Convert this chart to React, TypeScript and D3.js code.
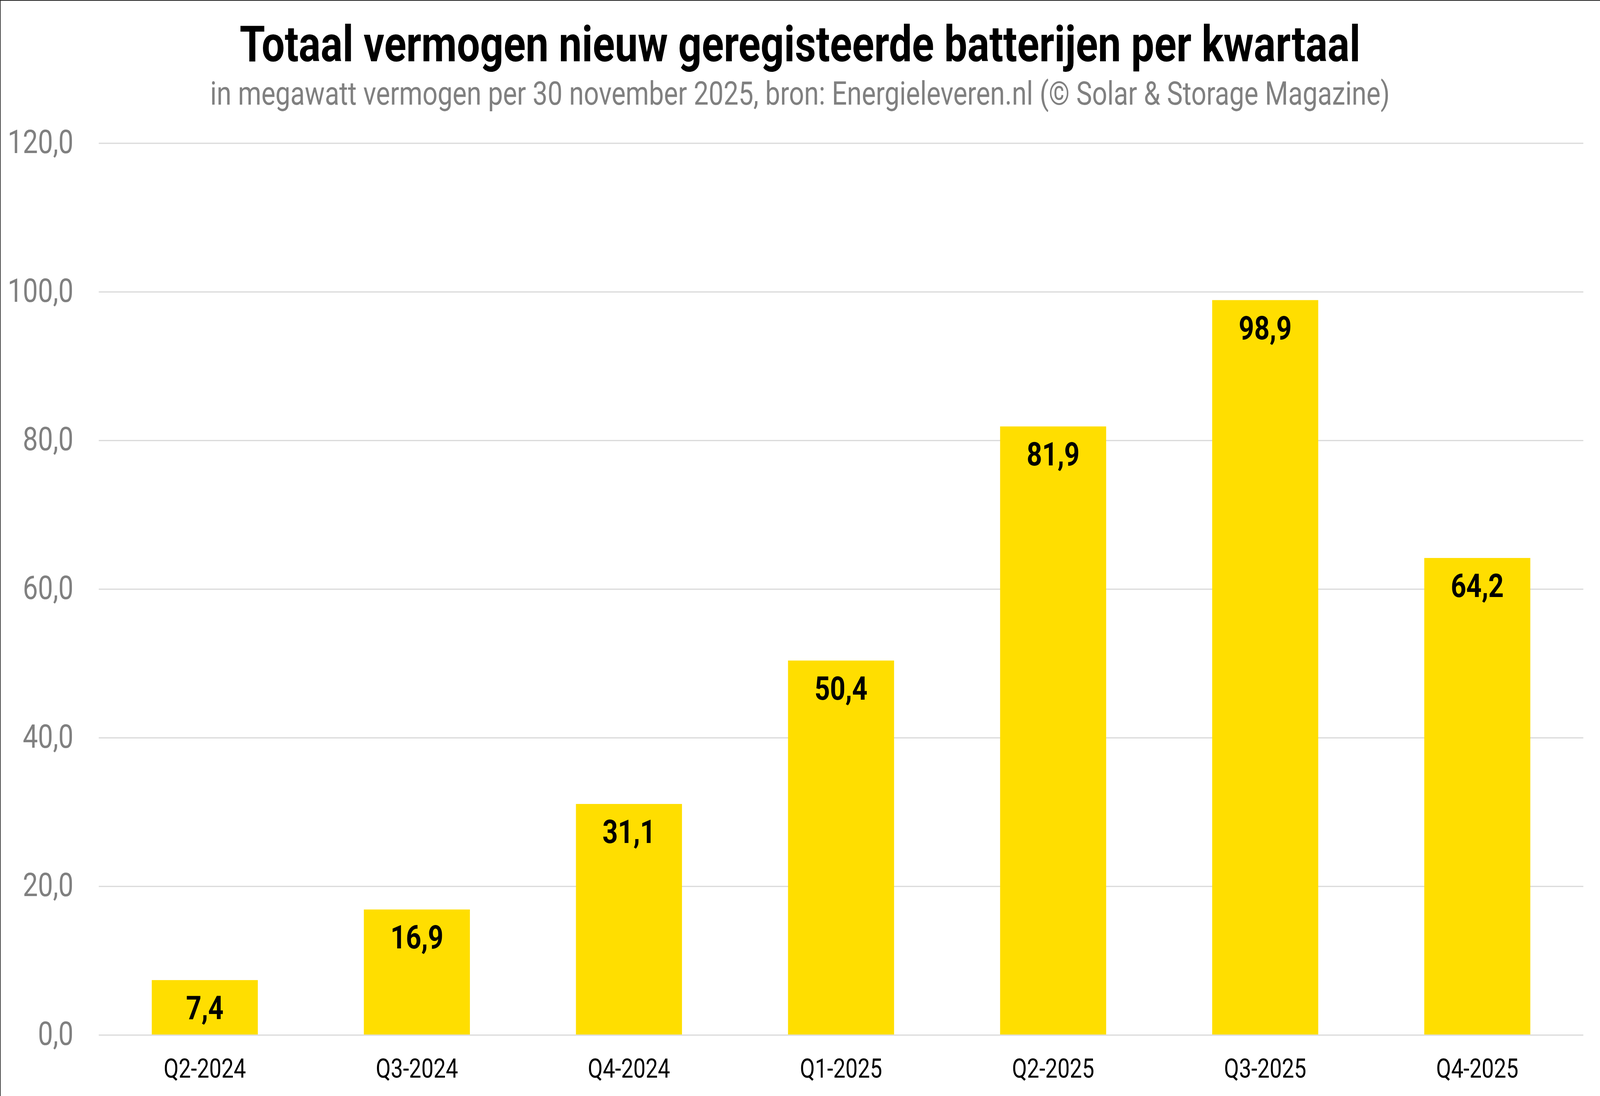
import React, { useEffect, useRef } from 'react';
import * as d3 from 'd3';

const quarters = ['Q2-2024', 'Q3-2024', 'Q4-2024', 'Q1-2025', 'Q2-2025', 'Q3-2025', 'Q4-2025'];
const megawatts = [7.4, 16.9, 31.1, 50.4, 81.9, 98.9, 64.2];
const yTicks = [0, 20, 40, 60, 80, 100, 120];

const WIDTH = 4990;
const HEIGHT = 2807;

const fmt = (v: number) => v.toFixed(1).replace('.', ',');

function BatteryChart() {
  const ref = useRef<SVGSVGElement>(null);

  useEffect(() => {
    if (!ref.current) return;
    document.body.style.margin = '0';
    const svg = d3.select(ref.current);
    svg.selectAll('*').remove();

    const left = 308;
    const right = 4938;
    const top = 367;
    const bottom = 2651;

    const x = d3.scaleBand<string>()
      .domain(quarters)
      .range([left, right])
      .paddingInner(0.5)
      .paddingOuter(0.25);
    const y = d3.scaleLinear().domain([0, 120]).range([bottom, top]);

    svg.append('rect')
      .attr('width', WIDTH).attr('height', HEIGHT)
      .attr('fill', '#ffffff');

    // frame edges (top + left only)
    svg.append('line')
      .attr('x1', 0).attr('x2', WIDTH).attr('y1', 1).attr('y2', 1)
      .attr('stroke', '#222').attr('stroke-width', 2);
    svg.append('line')
      .attr('x1', 1).attr('x2', 1).attr('y1', 0).attr('y2', HEIGHT)
      .attr('stroke', '#222').attr('stroke-width', 2);

    // Titles
    svg.append('text')
      .attr('x', WIDTH / 2).attr('y', 157)
      .attr('text-anchor', 'middle')
      .attr('font-family', 'Roboto')
      .attr('font-weight', 700)
      .attr('font-size', '128px')
      .attr('fill', '#000')
      .text('Totaal vermogen nieuw geregisteerde batterijen per kwartaal');

    svg.append('text')
      .attr('x', WIDTH / 2).attr('y', 268)
      .attr('text-anchor', 'middle')
      .attr('font-family', 'Roboto')
      .attr('font-size', '83px')
      .attr('fill', '#808080')
      .text('in megawatt vermogen per 30 november 2025, bron: Energieleveren.nl (© Solar & Storage Magazine)');

    // Gridlines
    svg.append('g')
      .selectAll('line')
      .data(yTicks)
      .join('line')
      .attr('x1', left).attr('x2', right)
      .attr('y1', (d) => y(d)).attr('y2', (d) => y(d))
      .attr('stroke', '#d9d9d9')
      .attr('stroke-width', 3);

    // Y labels
    svg.append('g')
      .selectAll('text')
      .data(yTicks)
      .join('text')
      .attr('x', 229)
      .attr('y', (d) => y(d) + 25)
      .attr('text-anchor', 'end')
      .attr('font-family', 'Roboto')
      .attr('font-size', '84px')
      .attr('fill', '#808080')
      .text((d) => fmt(d));

    // Bars
    svg.append('g')
      .selectAll('rect')
      .data(megawatts)
      .join('rect')
      .attr('x', (_d, i) => x(quarters[i])!)
      .attr('y', (d) => y(d))
      .attr('width', x.bandwidth())
      .attr('height', (d) => y(0) - y(d) - 1.5)
      .attr('fill', '#ffde00');

    // Value labels
    svg.append('g')
      .selectAll('text')
      .data(megawatts)
      .join('text')
      .attr('x', (_d, i) => x(quarters[i])! + x.bandwidth() / 2)
      .attr('y', (d) => y(d) + 100)
      .attr('text-anchor', 'middle')
      .attr('font-family', 'Roboto')
      .attr('font-weight', 700)
      .attr('font-size', '84px')
      .attr('fill', '#000')
      .text((d) => fmt(d));

    // X labels
    svg.append('g')
      .selectAll('text')
      .data(quarters)
      .join('text')
      .attr('x', (d) => x(d)! + x.bandwidth() / 2)
      .attr('y', 2760)
      .attr('text-anchor', 'middle')
      .attr('font-family', 'Roboto')
      .attr('font-size', '68px')
      .attr('fill', '#000')
      .text((d) => d);
  }, []);

  // the viewport is narrower than the 4990px reference, so the drawing is
  // mapped onto whatever the window gives us
  return (
    <svg
      ref={ref}
      viewBox={`0 0 ${WIDTH} ${HEIGHT}`}
      preserveAspectRatio="none"
      style={{ position: 'fixed', left: 0, top: 0, width: '100vw', height: '100vh', display: 'block' }}
    />
  );
}

export default function App() {
  return <BatteryChart />;
}
